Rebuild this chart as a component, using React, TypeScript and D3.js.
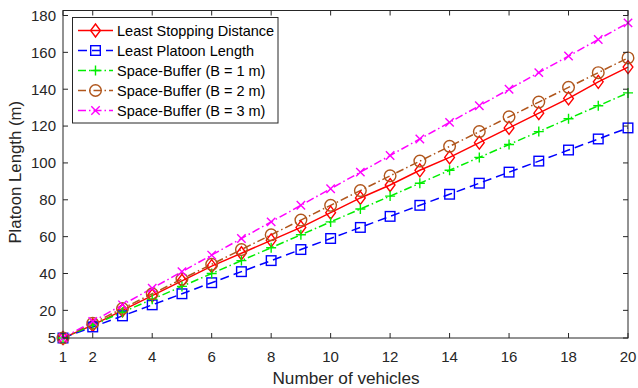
import * as d3 from "d3";
import React from "react";

const vehicles = [1, 2, 3, 4, 5, 6, 7, 8, 9, 10, 11, 12, 13, 14, 15, 16, 17, 18, 19, 20];
const leastStopping = [5, 12, 20, 28, 36, 44, 51, 58, 65, 73, 81, 88, 96, 103, 111, 119, 127, 135, 144, 152];
const leastPlatoon = [5, 11, 17, 23, 29, 35, 41, 47, 53, 59, 65, 71, 77, 83, 89, 95, 101, 107, 113, 119];
const buffer1 = [5, 12, 19, 26, 33, 40, 47, 54, 61, 68, 75, 82, 89, 96, 103, 110, 117, 124, 131, 138];
const buffer2 = [5, 13, 21, 29, 37, 45, 53, 61, 69, 77, 85, 93, 101, 109, 117, 125, 133, 141, 149, 157];
const buffer3 = [5, 14, 23, 32, 41, 50, 59, 68, 77, 86, 95, 104, 113, 122, 131, 140, 149, 158, 167, 176];

const xTicks = [1, 2, 4, 6, 8, 10, 12, 14, 16, 18, 20];
const yTicks = [5, 20, 40, 60, 80, 100, 120, 140, 160, 180];

const seriesNames = [
  "Least Stopping Distance",
  "Least Platoon Length",
  "Space-Buffer (B = 1 m)",
  "Space-Buffer (B = 2 m)",
  "Space-Buffer (B = 3 m)",
];

const series = [
  { name: seriesNames[0], values: leastStopping, color: "#ff0000", dash: "", marker: "diamond" },
  { name: seriesNames[1], values: leastPlatoon, color: "#0000ff", dash: "9,5", marker: "square" },
  { name: seriesNames[2], values: buffer1, color: "#00ee00", dash: "8,3,1.5,3", marker: "plus" },
  { name: seriesNames[3], values: buffer2, color: "#b0561c", dash: "8,3,1.5,3", marker: "circle" },
  { name: seriesNames[4], values: buffer3, color: "#ff00ff", dash: "8,3,1.5,3", marker: "cross" },
];

const W = 638;
const H = 388;
const left = 63;
const right = 628;
const frameTop = 10.5;
const bottom = 338;
const font = "'Liberation Sans', Arial, Helvetica, sans-serif";
const axisColor = "#262626";

function Marker({ type, x, y, color }: { type: string; x: number; y: number; color: string }) {
  const sw = 1.4;
  if (type === "diamond") {
    const r = 6.5;
    return (
      <path
        d={`M${x},${y - r}L${x + r * 0.75},${y}L${x},${y + r}L${x - r * 0.75},${y}Z`}
        fill="none"
        stroke={color}
        strokeWidth={sw}
      />
    );
  }
  if (type === "square") {
    const r = 4.8;
    return <rect x={x - r} y={y - r} width={2 * r} height={2 * r} fill="none" stroke={color} strokeWidth={sw} />;
  }
  if (type === "circle") {
    return <circle cx={x} cy={y} r={5.8} fill="none" stroke={color} strokeWidth={sw} />;
  }
  if (type === "plus") {
    const r = 5;
    return <path d={`M${x - r},${y}H${x + r}M${x},${y - r}V${y + r}`} stroke={color} strokeWidth={sw} />;
  }
  const r = 4.2;
  return (
    <path
      d={`M${x - r},${y - r}L${x + r},${y + r}M${x - r},${y + r}L${x + r},${y - r}`}
      stroke={color}
      strokeWidth={sw}
    />
  );
}

export default function App() {
  const x = d3.scaleLinear().domain([1, 20]).range([left, right]);
  const y = d3.scaleLinear().domain([5, 180]).range([bottom, 15.5]);

  const line = d3
    .line<number>()
    .x((_, i) => x(vehicles[i]))
    .y((d) => y(d));

  const tick = 5;
  const legX = 72.5;
  const legY = 17.5;
  const legW = 205.5;
  const legH = 105.5;
  const rowH = 20;

  return (
    <svg
      width={W}
      height={H}
      style={{ position: "absolute", left: 0, top: 0, background: "#fff" }}
      fontFamily={font}
    >
      <rect x={0} y={0} width={W} height={H} fill="#fff" />

      {/* series lines */}
      {series.map((s) => (
        <path
          key={s.name + "-line"}
          d={line(s.values) || ""}
          fill="none"
          stroke={s.color}
          strokeWidth={1.5}
          strokeDasharray={s.dash || undefined}
        />
      ))}
      {series.map((s) => (
        <g key={s.name + "-marks"}>
          {s.values.map((v, i) => (
            <Marker key={i} type={s.marker} x={x(vehicles[i])} y={y(v)} color={s.color} />
          ))}
        </g>
      ))}

      {/* frame */}
      <rect
        x={left}
        y={frameTop}
        width={right - left}
        height={bottom - frameTop}
        fill="none"
        stroke={axisColor}
        strokeWidth={1}
      />
      {xTicks.map((t) => (
        <g key={"xt" + t}>
          <line x1={x(t)} x2={x(t)} y1={bottom} y2={bottom - tick} stroke={axisColor} />
          <line x1={x(t)} x2={x(t)} y1={frameTop} y2={frameTop + tick} stroke={axisColor} />
          <text x={x(t)} y={362} textAnchor="middle" fontSize={15} fill={axisColor}>
            {t}
          </text>
        </g>
      ))}
      {yTicks.map((t) => (
        <g key={"yt" + t}>
          <line x1={left} x2={left + tick} y1={y(t)} y2={y(t)} stroke={axisColor} />
          <line x1={right} x2={right - tick} y1={y(t)} y2={y(t)} stroke={axisColor} />
          <text x={left - 7} y={y(t) + 5.3} textAnchor="end" fontSize={15} fill={axisColor}>
            {t}
          </text>
        </g>
      ))}

      {/* axis labels */}
      <text x={346} y={384} textAnchor="middle" fontSize={17.2} fill={axisColor}>
        Number of vehicles
      </text>
      <text
        transform={`translate(21,${(frameTop + bottom) / 2 - 2}) rotate(-90)`}
        textAnchor="middle"
        fontSize={16.8}
        fill={axisColor}
      >
        Platoon Length (m)
      </text>

      {/* legend */}
      <rect x={legX} y={legY} width={legW} height={legH} fill="#fff" stroke={axisColor} strokeWidth={1} />
      {series.map((s, i) => {
        const cy = legY + 13 + i * rowH;
        return (
          <g key={s.name + "-leg"}>
            <line
              x1={legX + 5.5}
              x2={legX + 40.5}
              y1={cy}
              y2={cy}
              stroke={s.color}
              strokeWidth={1.5}
              strokeDasharray={s.dash || undefined}
            />
            <Marker type={s.marker} x={legX + 23} y={cy} color={s.color} />
            <text x={legX + 44.5} y={cy + 5.2} fontSize={14.5} fill="#000">
              {s.name}
            </text>
          </g>
        );
      })}
    </svg>
  );
}
